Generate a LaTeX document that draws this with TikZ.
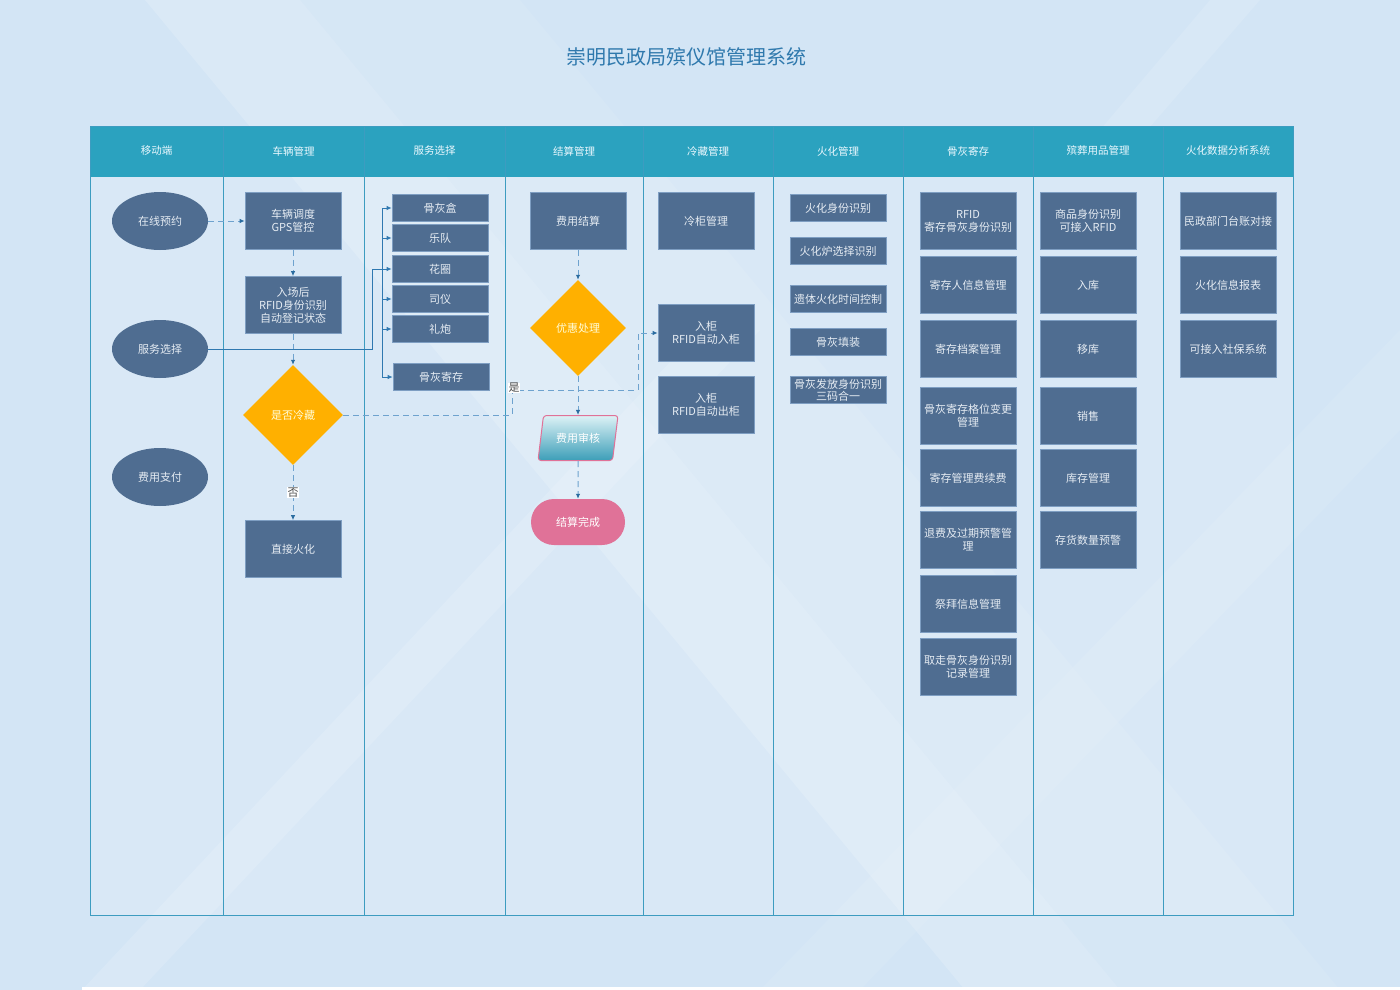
\documentclass[tikz,border=0pt]{standalone}
\usepackage{fontspec}
\newfontfamily\cjk{Noto Sans CJK SC}
\usetikzlibrary{shapes.geometric,arrows.meta}
\definecolor{bgblue}{HTML}{D3E5F5}
\definecolor{headteal}{HTML}{2BA2BF}
\definecolor{laneline}{HTML}{3D9CC0}
\definecolor{boxblue}{HTML}{4F6D91}
\definecolor{boxedge}{HTML}{7E9EC2}
\definecolor{boxtext}{HTML}{E6ECF3}
\definecolor{dashblue}{HTML}{6EA2CE}
\definecolor{tipblue}{HTML}{2A6CA0}
\definecolor{solidblue}{HTML}{2F78B0}
\definecolor{decision}{HTML}{FFB000}
\definecolor{pill}{HTML}{E07298}
\definecolor{titleblue}{HTML}{2F79AD}
\definecolor{audittop}{HTML}{DDF2F6}
\definecolor{auditmid}{HTML}{7CC6D6}
\definecolor{auditbot}{HTML}{3C9EB8}
\begin{document}
\begin{tikzpicture}[x=1pt,y=-1pt,
    every node/.style={font=\cjk\fontsize{11pt}{13pt}\selectfont},
    box/.style={rectangle, fill=boxblue, draw=boxedge, line width=0.6pt, text=boxtext,
        minimum width=96, minimum height=57, align=center, inner sep=1pt},
    thinbox/.style={box, minimum height=27, inner sep=0pt},
    oval/.style={ellipse, fill=boxblue, text=boxtext, minimum width=96, minimum height=58},
    choice/.style={diamond, fill=decision, text=yellow!15, minimum width=100, minimum height=100, inner sep=0pt},
    lanehead/.style={text=cyan!8, font=\cjk\fontsize{10.5pt}{12pt}\selectfont},
    dashline/.style={dashblue, line width=1pt, dash pattern=on 6pt off 4pt},
    dasharrow/.style={dashline, -{Latex[length=5pt,width=4.5pt,color=tipblue]}},
    solidline/.style={solidblue, line width=0.9pt},
    solidarrow/.style={solidline, -{Latex[length=5pt,width=4.5pt]}},
    tag/.style={fill=white, inner sep=0.5pt, text=black!70}]
    % Background
    \useasboundingbox (0,0) rectangle (1400,990);
    \fill[bgblue] (0,0) rectangle (1400,990);
    \fill[white, opacity=0.16] (145,0) -- (300,0) -- (1120,990) -- (965,990) -- cycle;
    \fill[white, opacity=0.08] (300,0) -- (520,0) -- (1340,990) -- (1120,990) -- cycle;
    \fill[white, opacity=0.14] (82,990) -- (140,990) -- (760,330) -- (700,330) -- cycle;
    \fill[white, opacity=0.12] (1100,130) -- (1210,0) -- (1260,0) -- (1130,150) -- cycle;
    \fill[white, opacity=0.08] (760,990) -- (860,990) -- (1400,430) -- (1400,330) -- cycle;
    \fill[white] (82,987) rectangle (1400,990);
    % Title
    \node[text=titleblue, font=\cjk\fontsize{20pt}{24pt}\selectfont] (title) at (686,57) {崇明民政局殡仪馆管理系统};
    % Lanes
    \fill[white, opacity=0.15] (90,177) rectangle (1293,915);
    \fill[headteal] (90,126) rectangle (1293,177);
    \foreach \xa/\xb/\name in {90/223/移动端, 223/364/车辆管理, 364/505/服务选择,
        505/643/结算管理, 643/773/冷藏管理, 773/903/火化管理, 903/1033/骨灰寄存,
        1033/1163/殡葬用品管理, 1163/1293/火化数据分析系统} {
        \draw[laneline, line width=1pt] (\xa,126) rectangle (\xb,915);
        \node[lanehead] (head-\xa) at ({(\xa+\xb)/2},151) {\name};
    }
    % Mobile
    \node[oval] (online) at (160,221) {在线预约};
    \node[oval] (service) at (160,349) {服务选择};
    \node[oval] (pay) at (160,477) {费用支付};
    % Vehicles
    \node[box] (dispatch) at (293,221) {车辆调度\\GPS管控};
    \node[box] (arrive) at (293,305) {入场后\\RFID身份识别\\自动登记状态};
    \node[choice] (cold) at (293,415) {是否冷藏};
    \node[box] (direct) at (293,549) {直接火化};
    % Service choice
    \node[thinbox] (urn) at (440,208) {骨灰盒};
    \node[thinbox] (band) at (440,238) {乐队};
    \node[thinbox] (wreath) at (440,269) {花圈};
    \node[thinbox] (host) at (440,299) {司仪};
    \node[thinbox] (salute) at (440,329) {礼炮};
    \node[thinbox] (store) at (441,377) {骨灰寄存};
    % Settlement
    \node[box] (fee) at (578,221) {费用结算};
    \node[choice, minimum width=96, minimum height=96] (discount) at (578,328) {优惠处理};
    \node[trapezium, trapezium left angle=72, trapezium right angle=108, trapezium stretches body,
        minimum width=80, minimum height=45, rounded corners=3pt, draw=pill, line width=1pt,
        top color=audittop, middle color=auditmid, bottom color=auditbot,
        text=white] (audit) at (578,438) {费用审核};
    \node[rectangle, rounded corners=23pt, fill=pill, text=white, minimum width=94,
        minimum height=46] (done) at (578,522) {结算完成};
    % Cold storage
    \node[box] (fridge) at (706,221) {冷柜管理};
    \node[box] (cabin-in) at (706,333) {入柜\\RFID自动入柜};
    \node[box] (cabin-out) at (706,405) {入柜\\RFID自动出柜};
    % Cremation
    \node[thinbox] (crem-id) at (838,208) {火化身份识别};
    \node[thinbox] (furnace) at (838,251) {火化炉选择识别};
    \node[thinbox] (timing) at (838,299) {遗体火化时间控制};
    \node[thinbox] (filling) at (838,342) {骨灰填装};
    \node[thinbox, font=\cjk\fontsize{11pt}{12pt}\selectfont] (release) at (838,390) {骨灰发放身份识别\\三码合一};
    % Ash storage
    \node[box] (ash-id) at (968,221) {RFID\\寄存骨灰身份识别};
    \node[box] (depositor) at (968,285) {寄存人信息管理};
    \node[box] (archive) at (968,349) {寄存档案管理};
    \node[box] (slot) at (968,416) {骨灰寄存格位变更\\管理};
    \node[box] (renew) at (968,478) {寄存管理费续费};
    \node[box] (refund) at (968,540) {退费及过期预警管\\理};
    \node[box] (worship) at (968,604) {祭拜信息管理};
    \node[box] (pickup) at (968,667) {取走骨灰身份识别\\记录管理};
    % Funeral goods
    \node[box] (goods-id) at (1088,221) {商品身份识别\\可接入RFID};
    \node[box] (stock-in) at (1088,285) {入库};
    \node[box] (move) at (1088,349) {移库};
    \node[box] (sale) at (1088,416) {销售};
    \node[box] (stock) at (1088,478) {库存管理};
    \node[box] (alert) at (1088,540) {存货数量预警};
    % Data analysis
    \node[box] (ledger) at (1228,221) {民政部门台账对接};
    \node[box] (report) at (1228,285) {火化信息报表};
    \node[box] (social) at (1228,349) {可接入社保系统};
    % Dashed flow
    \draw[dasharrow] (online) -- (dispatch);
    \draw[dasharrow] (dispatch) -- (arrive);
    \draw[dasharrow] (arrive) -- (cold);
    \draw[dasharrow] (cold) -- node[tag, pos=0.5] {否} (direct);
    \draw[dasharrow] (fee) -- (discount);
    \draw[dasharrow] (discount) -- (audit);
    \draw[dasharrow] (audit) -- (done);
    \draw[dasharrow] (cold.east) -| (512,390) -| (638,333) -- (cabin-in.west);
    \node[tag] (yes) at (514,388) {是};
    % Service bracket
    \coordinate (trunk) at (382,0);
    \coordinate (feed) at (372,0);
    \draw[solidline] (service.east) -| (wreath.west -| feed) -- (wreath.west -| trunk);
    \draw[solidline] (urn.west -| trunk) -- (store.west -| trunk);
    \foreach \b in {urn, band, wreath, host, salute, store}
        \draw[solidarrow] (\b.west -| trunk) -- (\b.west);
\end{tikzpicture}
\end{document}
